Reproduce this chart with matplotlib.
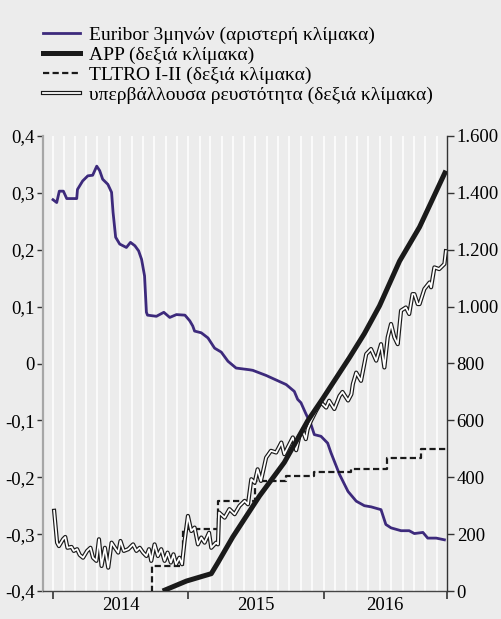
import numpy as np
import pandas as pd
import matplotlib
matplotlib.use("Agg")
import matplotlib.pyplot as plt
import matplotlib.dates as mdates
from matplotlib.lines import Line2D
from matplotlib.ticker import FixedLocator, FixedFormatter

# ─── Data ───────────────────────────────────────────────────────────
euribor_dates = [
    "2014-01-01", "2014-01-11", "2014-01-18", "2014-01-29", "2014-02-07", "2014-03-06",
    "2014-03-08", "2014-03-22", "2014-04-05", "2014-04-18", "2014-04-29", "2014-05-07",
    "2014-05-15", "2014-05-29", "2014-06-08", "2014-06-12", "2014-06-19", "2014-06-30",
    "2014-07-18", "2014-07-29", "2014-08-10", "2014-08-20", "2014-08-28", "2014-09-05",
    "2014-09-10", "2014-09-13", "2014-10-07", "2014-10-27", "2014-11-12", "2014-11-30",
    "2014-12-23", "2015-01-05", "2015-01-13", "2015-01-18", "2015-02-05", "2015-02-23",
    "2015-03-13", "2015-03-31", "2015-04-18", "2015-05-10", "2015-06-15", "2015-06-24",
    "2015-07-30", "2015-08-26", "2015-09-22", "2015-10-14", "2015-10-23", "2015-11-01",
    "2015-11-14", "2015-11-28", "2015-12-07", "2015-12-25", "2016-01-12", "2016-01-21",
    "2016-02-13", "2016-03-07", "2016-03-29", "2016-04-20", "2016-05-08", "2016-06-04",
    "2016-06-17", "2016-07-01", "2016-07-28", "2016-08-19", "2016-09-02", "2016-09-25",
    "2016-10-08", "2016-10-31", "2016-11-22",
]
euribor_vals = [
    0.288, 0.283, 0.303, 0.303, 0.290, 0.290,
    0.306, 0.321, 0.330, 0.331, 0.347, 0.339,
    0.324, 0.315, 0.301, 0.266, 0.222, 0.210,
    0.204, 0.213, 0.207, 0.198, 0.183, 0.154,
    0.090, 0.085, 0.083, 0.090, 0.081, 0.086,
    0.085, 0.075, 0.066, 0.057, 0.054, 0.045,
    0.027, 0.020, 0.004, -0.008, -0.011, -0.012,
    -0.021, -0.029, -0.037, -0.049, -0.063, -0.069,
    -0.088, -0.107, -0.125, -0.128, -0.140, -0.157,
    -0.195, -0.225, -0.242, -0.250, -0.252, -0.257,
    -0.283, -0.289, -0.294, -0.294, -0.299, -0.297,
    -0.307, -0.307, -0.310,
]

app_dates = [
    "2014-10-24", "2014-12-27", "2015-03-04", "2015-03-22", "2015-05-01", "2015-06-15",
    "2015-07-12", "2015-09-17", "2015-11-19", "2015-12-29", "2016-03-11", "2016-04-20",
    "2016-05-31", "2016-07-24", "2016-09-16", "2016-11-26",
]
app_vals = [0, 35, 61, 100, 190, 280, 334, 452, 598, 675, 821, 905, 1003, 1160, 1280, 1478]

tltro_dates = [
    "2014-09-23", "2014-09-24", "2014-12-17", "2015-03-22", "2015-07-01", "2015-09-22",
    "2015-12-07", "2016-03-16", "2016-06-19", "2016-09-20", "2016-11-26",
]
tltro_vals = [0, 88, 219, 317, 388, 405, 420, 428, 467, 501, 501]

liq_dates = [
    "2014-01-04", "2014-01-12", "2014-01-17", "2014-01-28", "2014-02-03", "2014-02-09",
    "2014-02-20", "2014-02-26", "2014-03-07", "2014-03-14", "2014-03-23", "2014-04-03",
    "2014-04-12", "2014-04-19", "2014-04-28", "2014-05-05", "2014-05-12", "2014-05-21",
    "2014-05-30", "2014-06-08", "2014-06-17", "2014-06-26", "2014-07-02", "2014-07-11",
    "2014-07-23", "2014-08-05", "2014-08-14", "2014-08-23", "2014-09-01", "2014-09-10",
    "2014-09-17", "2014-09-23", "2014-10-02", "2014-10-11", "2014-10-20", "2014-10-29",
    "2014-11-06", "2014-11-15", "2014-11-22", "2014-11-29", "2014-12-08", "2014-12-15",
    "2014-12-22", "2014-12-31", "2015-01-09", "2015-01-18", "2015-01-27", "2015-02-05",
    "2015-02-14", "2015-02-26", "2015-03-04", "2015-03-17", "2015-03-22", "2015-03-25",
    "2015-04-09", "2015-04-22", "2015-05-06", "2015-05-19", "2015-06-02", "2015-06-11",
    "2015-06-20", "2015-06-29", "2015-07-07", "2015-07-16", "2015-07-30", "2015-08-12",
    "2015-08-26", "2015-09-09", "2015-09-17", "2015-10-01", "2015-10-10", "2015-10-19",
    "2015-10-28", "2015-11-06", "2015-11-14", "2015-11-19", "2015-11-28", "2015-12-12",
    "2015-12-25", "2016-01-08", "2016-01-16", "2016-01-30", "2016-02-13", "2016-02-21",
    "2016-03-07", "2016-03-16", "2016-03-20", "2016-03-29", "2016-04-11", "2016-04-25",
    "2016-05-08", "2016-05-22", "2016-06-04", "2016-06-13", "2016-06-22", "2016-07-01",
    "2016-07-10", "2016-07-19", "2016-07-28", "2016-08-10", "2016-08-19", "2016-08-28",
    "2016-09-02", "2016-09-11", "2016-09-16", "2016-09-29", "2016-10-13", "2016-10-17",
    "2016-10-26", "2016-11-08", "2016-11-22", "2016-11-26",
]
liq_vals = [
    282, 170, 158, 182, 190, 152,
    155, 141, 147, 127, 117, 141,
    152, 117, 106, 182, 88, 152,
    82, 170, 152, 135, 176, 141,
    147, 164, 141, 152, 135, 123,
    147, 106, 164, 123, 147, 106,
    135, 100, 129, 94, 117, 94,
    176, 264, 211, 223, 164, 188,
    170, 205, 152, 170, 164, 276,
    258, 288, 270, 299, 317, 305,
    393, 381, 428, 387, 469, 493,
    487, 522, 481, 517, 540, 495,
    546, 563, 534, 569, 598, 634,
    663, 645, 669, 640, 686, 700,
    670, 692, 728, 768, 739, 833,
    851, 810, 868, 786, 892, 939,
    892, 868, 986, 997, 974, 1044,
    1044, 1009, 1009, 1062, 1085, 1068,
    1138, 1132, 1150, 1195,
]

labels = [
    "Euribor 3μηνών (αριστερή κλίμακα)",
    "APP (δεξιά κλίμακα)",
    "TLTRO I-II (δεξιά κλίμακα)",
    "υπερβάλλουσα ρευστότητα (δεξιά κλίμακα)",
]
left_ticks = [-0.4, -0.3, -0.2, -0.1, 0.0, 0.1, 0.2, 0.3, 0.4]
left_ticklabels = ["-0,4", "-0,3", "-0,2", "-0,1", "0", "0,1", "0,2", "0,3", "0,4"]
right_ticks = [0, 200, 400, 600, 800, 1000, 1200, 1400, 1600]
right_ticklabels = ["0", "200", "400", "600", "800", "1.000", "1.200", "1.400", "1.600"]
years = ["2014", "2015", "2016"]
# ────────────────────────────────────────────────────────────────────

bg = "#ececec"
purple = "#3d2a7c"
plt.rcParams['font.family'] = ['Liberation Serif', 'DejaVu Serif']
plt.rcParams['font.size'] = 13.5

fig = plt.figure(figsize=(5.01, 6.19), dpi=100, facecolor=bg)
ax = fig.add_axes([43 / 501, 28 / 619, 404 / 501, 455 / 619])
ax.set_facecolor(bg)
ax2 = ax.twinx()
ax2.patch.set_visible(False)

xmin, xmax = pd.Timestamp("2013-12-05"), pd.Timestamp("2016-11-29")

# monthly white grid lines
months = pd.date_range("2014-01-01", "2016-11-01", freq="MS")
for m in months:
    ax.axvline(m, color="white", lw=1.1, zorder=0)

ax.plot(pd.to_datetime(euribor_dates), euribor_vals, color=purple, lw=2.0,
        solid_joinstyle="round", zorder=3)

ax2.plot(pd.to_datetime(tltro_dates), tltro_vals, color="#1a1a1a", lw=1.6,
         dashes=(2.8, 1.5), drawstyle="steps-post", zorder=2)
ax2.plot(pd.to_datetime(liq_dates), liq_vals, color="#1a1a1a", lw=3.0, zorder=3)
ax2.plot(pd.to_datetime(liq_dates), liq_vals, color="white", lw=1.3, zorder=4)
ax2.plot(pd.to_datetime(app_dates), app_vals, color="#1a1a1a", lw=3.6,
         solid_capstyle="butt", zorder=5)

ax.set_xlim(xmin, xmax)
ax.set_ylim(-0.4, 0.4)
ax2.set_ylim(0, 1600)

ax.yaxis.set_major_locator(FixedLocator(left_ticks))
ax.yaxis.set_major_formatter(FixedFormatter(left_ticklabels))
ax2.yaxis.set_major_locator(FixedLocator(right_ticks))
ax2.yaxis.set_major_formatter(FixedFormatter(right_ticklabels))

# x axis: year boundary ticks, year names centered between them
bounds = pd.to_datetime(["2014-01-01", "2015-01-01", "2016-01-01"]).tolist() + [xmax]
bnum = mdates.date2num(bounds)
ax.xaxis.set_major_locator(FixedLocator(bnum))
ax.xaxis.set_major_formatter(FixedFormatter(["", "", "", ""]))
mids = [(bnum[i] + bnum[i + 1]) / 2 for i in range(3)]
ax.xaxis.set_minor_locator(FixedLocator(mids))
ax.xaxis.set_minor_formatter(FixedFormatter(years))
ax.tick_params(axis="x", which="major", direction="out", length=6, width=1.2, color="#333333")
ax.tick_params(axis="x", which="minor", length=0, pad=4, labelsize=13.5)
ax2.tick_params(axis="x", which="both", bottom=False, labelbottom=False)

ax.tick_params(axis="y", direction="out", length=4, width=1.0, color="#333333", pad=2)
ax2.tick_params(axis="y", direction="out", length=5, width=1.0, color="#333333", pad=2)

for a in (ax, ax2):
    a.spines["top"].set_visible(False)
ax.spines["left"].set_color("#a6a6a6")
ax.spines["left"].set_linewidth(1.6)
ax.spines["right"].set_visible(False)
ax.spines["bottom"].set_color("#444444")
ax.spines["bottom"].set_linewidth(1.0)
ax2.spines["left"].set_visible(False)
ax2.spines["bottom"].set_visible(False)
ax2.spines["right"].set_color("#333333")
ax2.spines["right"].set_linewidth(1.0)

handles = [
    Line2D([], [], color=purple, lw=2.0),
    Line2D([], [], color="#1a1a1a", lw=3.6),
    Line2D([], [], color="#1a1a1a", lw=1.6, dashes=(2.8, 1.5)),
    (Line2D([], [], color="#1a1a1a", lw=3.0), Line2D([], [], color="white", lw=1.3)),
]
fig.legend(handles, labels, loc="upper left", bbox_to_anchor=(43 / 501, 1 - 26 / 619),
           frameon=False, handlelength=1.9, handletextpad=0.45, labelspacing=0.12,
           borderpad=0, borderaxespad=0, fontsize=14)

fig.savefig("out.png", dpi=100, facecolor=bg)
